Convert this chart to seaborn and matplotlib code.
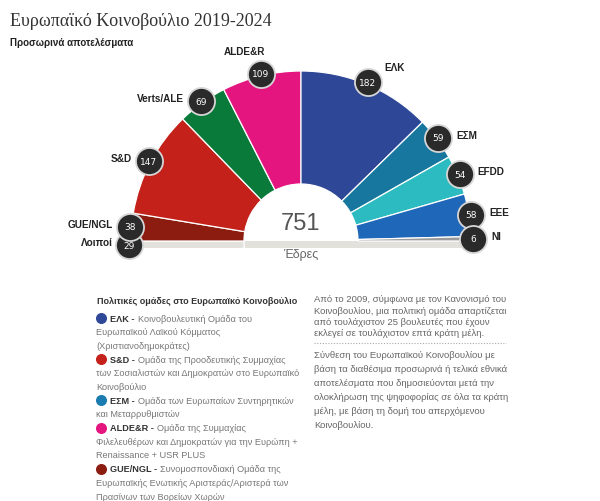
import numpy as np
import matplotlib.pyplot as plt
import seaborn as sns
from matplotlib.patches import Wedge, Rectangle

sns.set_theme(style="white")
plt.rcParams['font.family'] = ['Liberation Sans', 'DejaVu Sans']

# --- data ---
parties = ["Λοιποί", "GUE/NGL", "S&D", "Verts/ALE", "ALDE&R", "ΕΛΚ", "ΕΣΜ", "EFDD", "ΕΕΕ", "NI"]
seats = [29, 38, 147, 69, 109, 182, 59, 54, 58, 6]
colors = ["#e3e1dc", "#8c1b10", "#c4211a", "#0a7a3a", "#e5157f",
          "#2e4797", "#17779f", "#2bbbc0", "#1f67b8", "#9a9a9a"]
left_side = ["Λοιποί", "GUE/NGL", "S&D", "Verts/ALE", "ALDE&R"]
others = "Λοιποί"

legend_abbr = ["ΕΛΚ -", "S&D -", "ΕΣΜ -", "ALDE&R -", "GUE/NGL -"]
legend_colors = ["#2e4797", "#c4211a", "#1a7bb0", "#e5157f", "#8c1b10"]
legend_lines = [
    ["Κοινοβουλευτική Ομάδα του", "Ευρωπαϊκού Λαϊκού Κόμματος", "(Χριστιανοδημοκράτες)"],
    ["Ομάδα της Προοδευτικής Συμμαχίας", "των Σοσιαλιστών και Δημοκρατών στο Ευρωπαϊκό", "Κοινοβούλιο"],
    ["Ομάδα των Ευρωπαίων Συντηρητικών", "και Μεταρρυθμιστών"],
    ["Ομάδα της Συμμαχίας", "Φιλελευθέρων και Δημοκρατών για την Ευρώπη +", "Renaissance + USR PLUS"],
    ["Συνομοσπονδιακή Ομάδα της", "Ευρωπαϊκής Ενωτικής Αριστεράς/Αριστερά των", "Πρασίνων των Βορείων Χωρών"],
]
note1 = ["Από το 2009, σύμφωνα με τον Κανονισμό του",
         "Κοινοβουλίου, μια πολιτική ομάδα απαρτίζεται",
         "από τουλάχιστον 25 βουλευτές που έχουν",
         "εκλεγεί σε τουλάχιστον επτά κράτη μέλη."]
note2 = ["Σύνθεση του Ευρωπαϊκού Κοινοβουλίου με",
         "βάση τα διαθέσιμα προσωρινά ή τελικά εθνικά",
         "αποτελέσματα που δημοσιεύονται μετά την",
         "ολοκλήρωση της ψηφοφορίας σε όλα τα κράτη",
         "μέλη, με βάση τη δομή του απερχόμενου",
         "Κοινοβουλίου."]

W, H = 600, 502
Y = lambda y: H - y  # pixel row -> axis y

fig = plt.figure(figsize=(6, 5.02), dpi=100)
ax = fig.add_axes([0, 0, 1, 1])
ax.set_xlim(0, W)
ax.set_ylim(0, H)
ax.axis("off")

cx, cy = 301, Y(242)
R, r_in = 170, 57

# each half of the hemicycle is scaled on its own (others sit on the floor)
seat_map = dict(zip(parties, seats))
left_main = [p for p in left_side if p != others]
right_parties = [p for p in parties if p not in left_side]
scale_l = 90 / sum(seat_map[p] for p in left_main)
scale_r = 90 / sum(seat_map[p] for p in right_parties)

angles = {}
a = 90
for p in reversed(left_side):
    angles[p] = (a, a + seat_map[p] * scale_l)
    a += seat_map[p] * scale_l
a = 90
for p in right_parties:
    angles[p] = (a - seat_map[p] * scale_r, a)
    a -= seat_map[p] * scale_r

floor = Rectangle((cx - R, cy - 7), 2 * R, 7, fc="#e3e1dc", ec="none", zorder=1)
ax.add_patch(floor)
clip = Rectangle((cx - R - 5, cy - 7), 2 * R + 10, 7, transform=ax.transData)

for p, c in zip(parties, colors):
    t1, t2 = angles[p]
    w = Wedge((cx, cy), R, t1, t2, width=R - r_in, fc=c, ec="white", lw=0.9, zorder=2)
    ax.add_patch(w)
    if p == others:
        w.set_clip_path(clip)

# badges
rb = 172
bx, by = [], []
for p in parties:
    m = np.deg2rad(sum(angles[p]) / 2)
    s = np.sin(m)
    bx.append(cx + rb * np.cos(m))
    by.append(cy + rb * s * (0.4 if s < 0 else 1))
sns.scatterplot(x=bx, y=by, s=380, color="#2a2a2a", edgecolor="#d6d6d6",
                linewidth=1.3, ax=ax, zorder=5, legend=False)
for p, x, y in zip(parties, bx, by):
    ax.text(x, y, str(seat_map[p]), ha="center", va="center", color="white",
            fontsize=6.5, family=["DejaVu Sans"], zorder=6)
    m = np.deg2rad(sum(angles[p]) / 2)
    if np.sin(m) > 0.9:
        if np.cos(m) > 0:
            ax.text(x + 17, y + 15, p, ha="left", va="center", fontsize=7.2,
                    fontweight="bold", color="#222")
        else:
            ax.text(x + 4, y + 23, p, ha="right", va="center", fontsize=7.2,
                    fontweight="bold", color="#222")
    elif np.cos(m) > 0:
        ax.text(x + 18, y + 3, p, ha="left", va="center", fontsize=7.2,
                fontweight="bold", color="#222")
    else:
        ax.text(x - 17, y + 3, p, ha="right", va="center", fontsize=7.2,
                fontweight="bold", color="#222")

ax.text(cx, Y(224), str(sum(seats)), ha="center", va="center", fontsize=17, color="#555")
ax.text(cx, Y(255), "Έδρες", ha="center", va="center", fontsize=9, color="#666")

# titles
ax.text(10, Y(21), "Ευρωπαϊκό Κοινοβούλιο 2019-2024", ha="left", va="center",
        fontsize=13, color="#333", family=["Liberation Serif", "DejaVu Serif"])
ax.text(10, Y(43), "Προσωρινά αποτελέσματα", ha="left", va="center",
        fontsize=7, fontweight="bold", color="#222")

# legend block
ax.text(97, Y(301), "Πολιτικές ομάδες στο Ευρωπαϊκό Κοινοβούλιο", ha="left", va="center",
        fontsize=6.5, fontweight="bold", color="#333")
renderer = fig.canvas.get_renderer()
row = 0
step = 13.7
for abbr, col, lines in zip(legend_abbr, legend_colors, legend_lines):
    y0 = Y(319 + row * step)
    ax.scatter([101], [y0], s=48, color=col, zorder=3)
    t = ax.text(110, y0, abbr, ha="left", va="center", fontsize=6.6,
                fontweight="bold", color="#333")
    wbb = t.get_window_extent(renderer).width
    ax.text(110 + wbb + 3, y0, lines[0], ha="left", va="center", fontsize=6.6, color="#777")
    row += 1
    for ln in lines[1:]:
        ax.text(96, Y(319 + row * step), ln, ha="left", va="center", fontsize=6.6, color="#777")
        row += 1

# notes on the right
for i, ln in enumerate(note1):
    ax.text(314, Y(300 + i * 11.2), ln, ha="left", va="center", fontsize=6.8, color="#666")
ax.plot([314, 506], [Y(344), Y(344)], ls=(0, (1, 1.5)), lw=0.8, color="#aaa")
for i, ln in enumerate(note2):
    ax.text(314, Y(356 + i * 13.9), ln, ha="left", va="center", fontsize=6.8, color="#666")

fig.savefig("out.png", dpi=100, facecolor="white")
